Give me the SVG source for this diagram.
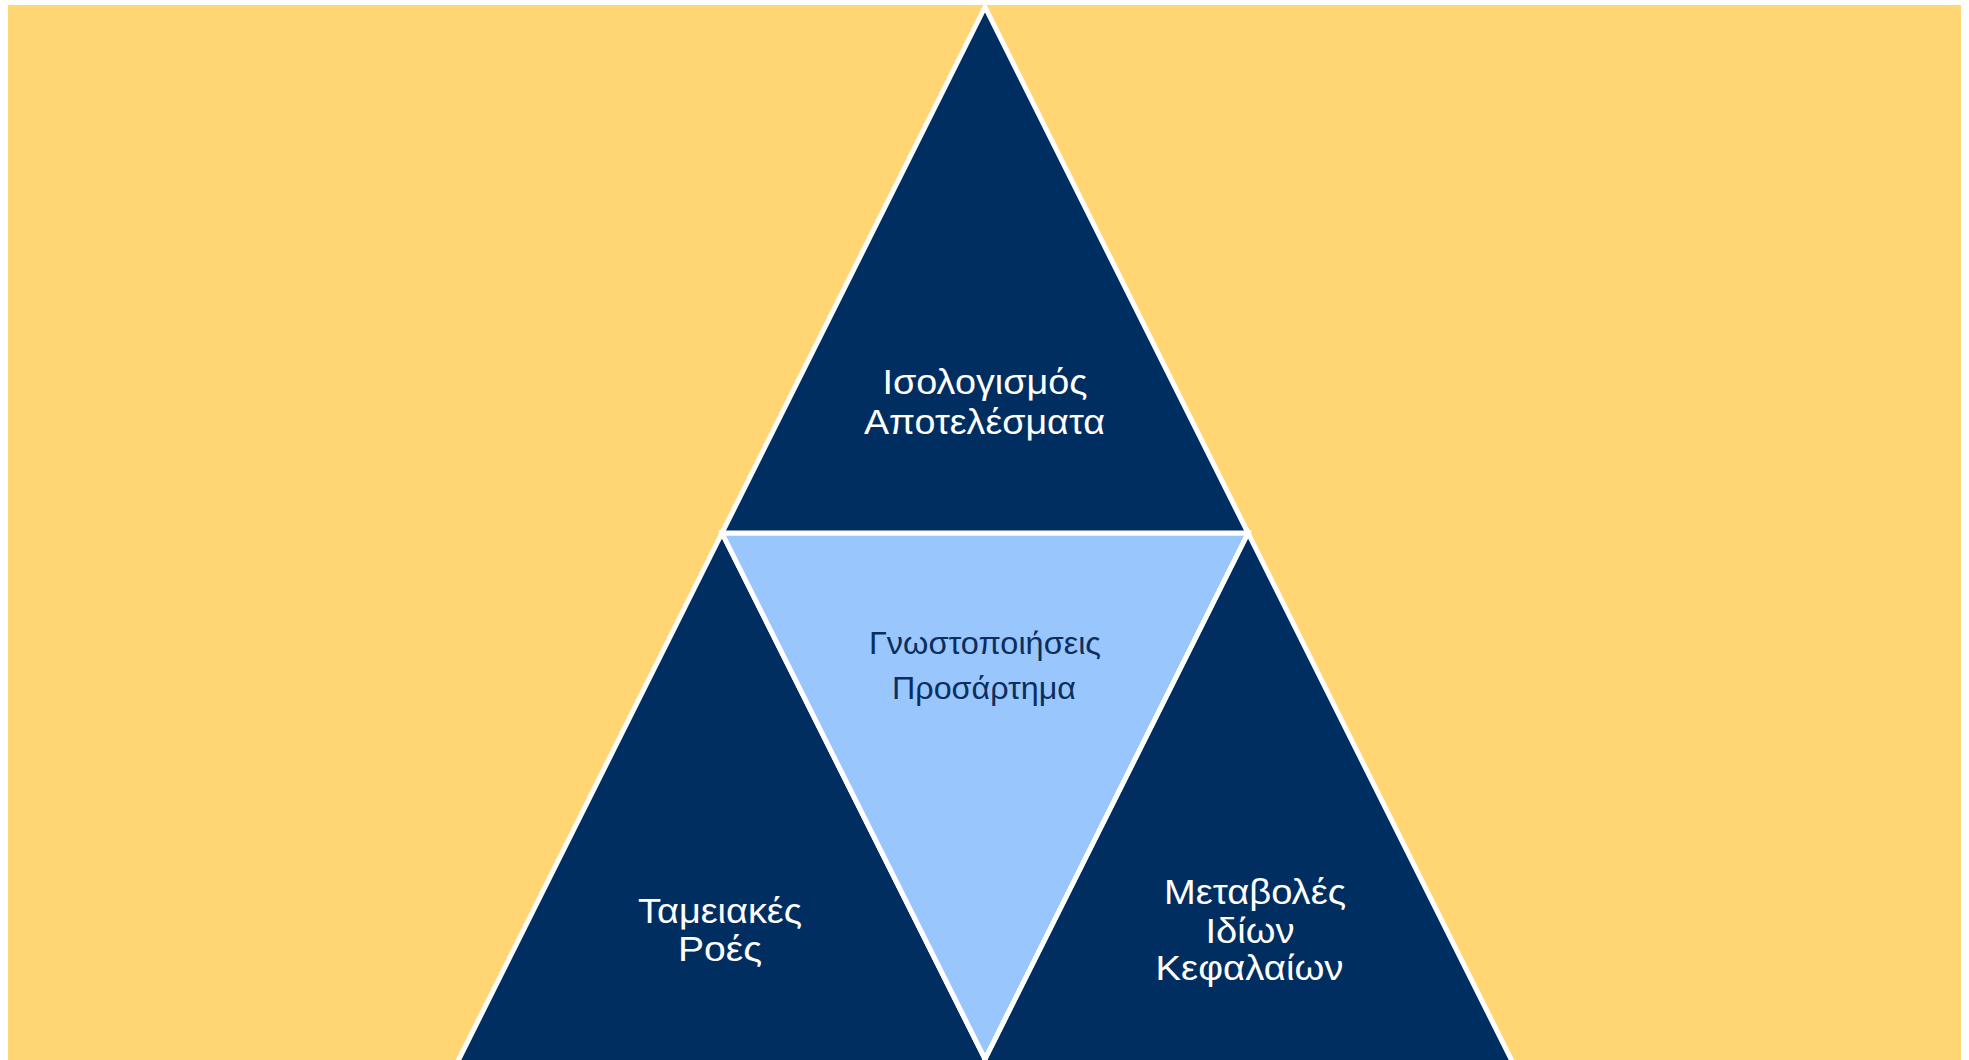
<svg xmlns="http://www.w3.org/2000/svg" width="1969" height="1060" viewBox="0 0 1969 1060">
  <style>
    .tri { stroke: #FFFFFF; stroke-width: 5; stroke-linejoin: miter; }
    .navy { fill: #012E61; }
    .light { fill: #99C6FD; }
    .lbl { font-family: "Liberation Sans", Arial, sans-serif; text-anchor: middle; }
    .w { fill: #FFFFFF; font-size: 35px; }
    .d { fill: #0B2E5E; font-size: 31px; }
  </style>
  <rect width="1969" height="1060" fill="#FFFFFF"/>
  <rect id="background" x="8" y="5" width="1953" height="1060" fill="#FFD673"/>
  <g id="connectors"/>
  <g id="node-bottom-left">
    <polygon class="tri navy" points="722,533 990.5,1070 453.5,1070"/>
    <text class="lbl w" x="720" y="923" textLength="164" lengthAdjust="spacingAndGlyphs">Ταμειακές</text>
    <text class="lbl w" x="720" y="961" textLength="84" lengthAdjust="spacingAndGlyphs">Ροές</text>
  </g>
  <g id="node-bottom-right">
    <polygon class="tri navy" points="1248,533 1516.5,1070 979.5,1070"/>
    <text class="lbl w" x="1255" y="904" textLength="182" lengthAdjust="spacingAndGlyphs">Μεταβολές</text>
    <text class="lbl w" x="1250" y="942.5" textLength="89" lengthAdjust="spacingAndGlyphs">Ιδίων</text>
    <text class="lbl w" x="1249.5" y="979.5" textLength="188" lengthAdjust="spacingAndGlyphs">Κεφαλαίων</text>
  </g>
  <g id="node-middle">
    <polygon class="tri light" points="722,533 1248,533 985,1059"/>
    <text class="lbl d" x="985" y="653.5" textLength="232" lengthAdjust="spacingAndGlyphs">Γνωστοποιήσεις</text>
    <text class="lbl d" x="984" y="698.5" textLength="184" lengthAdjust="spacingAndGlyphs">Προσάρτημα</text>
  </g>
  <g id="node-top">
    <polygon class="tri navy" points="985,7 1248,533 722,533"/>
    <text class="lbl w" x="985" y="394" textLength="205" lengthAdjust="spacingAndGlyphs">Ισολογισμός</text>
    <text class="lbl w" x="984.5" y="433.5" textLength="241" lengthAdjust="spacingAndGlyphs">Αποτελέσματα</text>
  </g>
</svg>
